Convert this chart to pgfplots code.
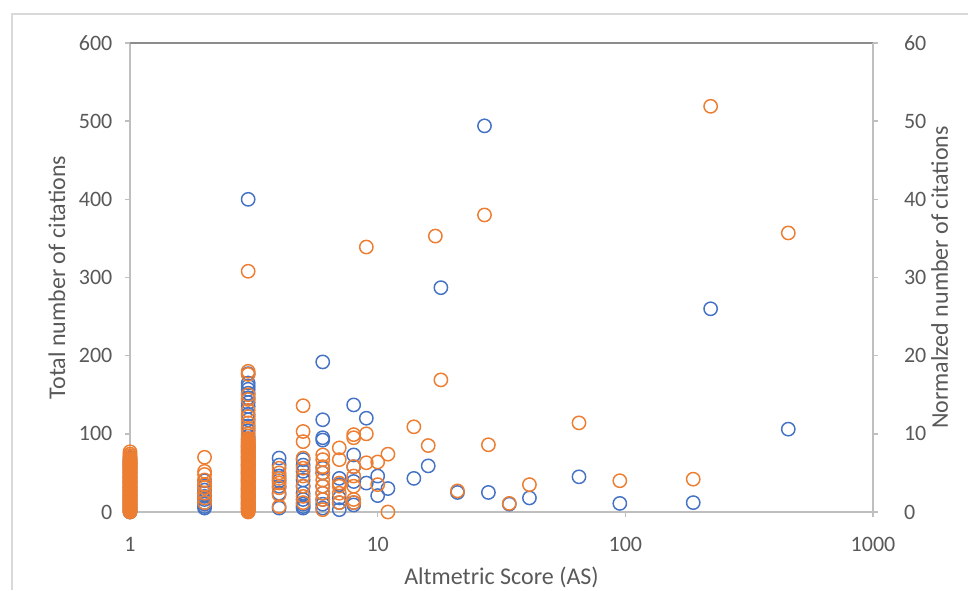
\documentclass[border=0pt]{standalone}
\usepackage{pgfplots}
\pgfplotsset{compat=1.18}
\usepackage{pgfplotstable}
\usepackage{fontspec}
\setmainfont{Carlito}
\definecolor{xlblue}{HTML}{4472C4}
\definecolor{xlorange}{HTML}{ED7D31}
\definecolor{txtgray}{HTML}{595959}
\definecolor{axgray}{HTML}{BFBFBF}
\definecolor{topgray}{HTML}{8C8C8C}
\definecolor{framegray}{HTML}{D9D9D9}

% Total number of citations (left axis)
\pgfplotstableread[row sep=\\]{
x y\\
1 0\\ 1 3\\ 1 6\\ 1 10\\ 1 14\\ 1 18\\ 1 22\\ 1 27\\ 1 32\\ 1 38\\ 1 44\\ 1 50\\ 1 56\\ 1 60\\ 1 63\\ 1 66\\ 1 69\\
2 5\\ 2 7\\ 2 10\\ 2 12\\ 2 16\\ 2 20\\ 2 24\\ 2 28\\ 2 33\\ 2 40\\
3 400\\ 3 177\\ 3 165\\ 3 161\\ 3 157\\ 3 152\\ 3 146\\ 3 140\\ 3 135\\ 3 125\\ 3 118\\ 3 110\\ 3 104\\ 3 97\\ 3 93\\ 3 84\\ 3 78\\ 3 70\\ 3 60\\ 3 50\\ 3 40\\ 3 30\\ 3 20\\ 3 10\\ 3 5\\
4 5\\ 4 24\\ 4 33\\ 4 40\\ 4 46\\ 4 60\\ 4 69\\
5 5\\ 5 7\\ 5 10\\ 5 16\\ 5 24\\ 5 33\\ 5 41\\ 5 52\\ 5 60\\ 5 67\\
6 192\\ 6 118\\ 6 95\\ 6 92\\ 6 56\\ 6 50\\ 6 33\\ 6 24\\ 6 16\\ 6 10\\ 6 5\\
7 3\\ 7 12\\ 7 18\\ 7 35\\ 7 43\\
8 137\\ 8 73\\ 8 58\\ 8 39\\ 8 12\\ 8 9\\
9 120\\ 9 37\\ 10 46\\ 10 21\\ 11 30\\
14 43\\ 16 59\\ 18 287\\ 21 25\\ 27 494\\ 28 25\\ 34 10\\ 41 18\\ 65 45\\ 95 11\\ 188 12\\ 221 260\\ 455 106\\
}\totaldata

% Normalized number of citations (right axis)
\pgfplotstableread[row sep=\\]{
x y\\
1 0\\ 1 0.1\\ 1 0.2\\ 1 0.3\\ 1 0.4\\ 1 0.5\\ 1 0.6\\ 1 0.7\\ 1 0.8\\ 1 0.9\\
1 1.0\\ 1 1.1\\ 1 1.2\\ 1 1.3\\ 1 1.4\\ 1 1.5\\ 1 1.6\\ 1 1.7\\ 1 1.8\\ 1 1.9\\
1 2.0\\ 1 2.1\\ 1 2.2\\ 1 2.3\\ 1 2.4\\ 1 2.5\\ 1 2.6\\ 1 2.7\\ 1 2.8\\ 1 2.9\\
1 3.0\\ 1 3.1\\ 1 3.2\\ 1 3.3\\ 1 3.4\\ 1 3.5\\ 1 3.6\\ 1 3.7\\ 1 3.8\\ 1 3.9\\
1 4.0\\ 1 4.1\\ 1 4.2\\ 1 4.3\\ 1 4.4\\ 1 4.5\\ 1 4.6\\ 1 4.7\\ 1 4.8\\ 1 4.9\\
1 5.0\\ 1 5.1\\ 1 5.2\\ 1 5.3\\ 1 5.4\\ 1 5.5\\ 1 5.6\\ 1 5.7\\ 1 5.8\\ 1 5.9\\
1 6.0\\ 1 6.1\\ 1 6.2\\ 1 6.3\\ 1 6.4\\ 1 6.5\\ 1 6.6\\ 1 6.8\\ 1 7.0\\ 1 7.2\\ 1 7.4\\ 1 7.7\\
2 1.2\\ 2 1.8\\ 2 2.4\\ 2 3.1\\ 2 3.5\\ 2 4.1\\ 2 4.8\\ 2 5.2\\ 2 7.0\\
3 0\\ 3 0.1\\ 3 0.2\\ 3 0.3\\ 3 0.4\\ 3 0.5\\ 3 0.6\\ 3 0.7\\ 3 0.8\\ 3 0.9\\
3 1.0\\ 3 1.1\\ 3 1.2\\ 3 1.3\\ 3 1.4\\ 3 1.5\\ 3 1.6\\ 3 1.7\\ 3 1.8\\ 3 1.9\\
3 2.0\\ 3 2.1\\ 3 2.2\\ 3 2.3\\ 3 2.4\\ 3 2.5\\ 3 2.6\\ 3 2.7\\ 3 2.8\\ 3 2.9\\
3 3.0\\ 3 3.1\\ 3 3.2\\ 3 3.3\\ 3 3.4\\ 3 3.5\\ 3 3.6\\ 3 3.7\\ 3 3.8\\ 3 3.9\\
3 4.0\\ 3 4.1\\ 3 4.2\\ 3 4.3\\ 3 4.4\\ 3 4.5\\ 3 4.6\\ 3 4.7\\ 3 4.8\\ 3 4.9\\
3 5.0\\ 3 5.1\\ 3 5.2\\ 3 5.3\\ 3 5.4\\ 3 5.5\\ 3 5.6\\ 3 5.7\\ 3 5.8\\ 3 5.9\\
3 6.0\\ 3 6.1\\ 3 6.2\\ 3 6.3\\ 3 6.4\\ 3 6.5\\ 3 6.6\\ 3 6.7\\ 3 6.8\\ 3 6.9\\
3 7.0\\ 3 7.1\\ 3 7.2\\ 3 7.3\\ 3 7.4\\ 3 7.5\\ 3 7.6\\ 3 7.7\\ 3 7.8\\ 3 7.9\\
3 8.0\\ 3 8.1\\ 3 8.2\\ 3 8.3\\ 3 8.4\\ 3 8.5\\ 3 8.6\\ 3 8.7\\ 3 8.8\\ 3 8.9\\
3 9.0\\ 3 9.2\\ 3 9.4\\ 3 10.0\\ 3 10.7\\ 3 11.4\\ 3 12.2\\ 3 13.0\\ 3 14.4\\ 3 15.0\\ 3 17.6\\ 3 18.0\\ 3 30.8\\
4 0.7\\ 4 2.2\\ 4 3.1\\ 4 3.7\\ 4 4.3\\ 4 5.0\\ 4 5.6\\
5 1.2\\ 5 2.0\\ 5 3.3\\ 5 4.6\\ 5 5.6\\ 5 6.9\\ 5 9.0\\ 5 10.3\\ 5 13.6\\
6 0.3\\ 6 1.6\\ 6 2.4\\ 6 3.3\\ 6 4.1\\ 6 5.0\\ 6 5.8\\ 6 6.7\\ 6 7.3\\
7 1.2\\ 7 2.4\\ 7 3.3\\ 7 3.7\\ 7 6.7\\ 7 8.2\\
8 1.2\\ 8 1.6\\ 8 3.3\\ 8 4.6\\ 8 5.8\\ 8 9.5\\ 8 9.9\\
9 6.3\\ 9 10.0\\ 9 33.9\\ 10 3.5\\ 10 6.4\\ 11 0\\ 11 7.4\\
14 10.9\\ 16 8.5\\ 17.1 35.3\\ 18 16.9\\ 21 2.7\\ 27 38.0\\ 28 8.6\\ 34 1.1\\ 41 3.5\\ 65 11.4\\ 95 4.0\\ 188 4.2\\ 221 51.9\\ 455 35.7\\
}\normdata

\pgfplotsset{
  mycommon/.style={
    at={(97.5pt,58.5pt)}, anchor=south west,
    scale only axis, width=557.25pt, height=351.75pt,
    xmin=1, xmax=1000,
    clip=false,
    tick align=outside,
    major tick length=3.75pt,
    minor tick length=0pt,
    tick style={color=axgray, line width=1.1pt},
    axis line style={-, color=axgray, line width=1.1pt},
    ticklabel style={font=\fontsize{16.5}{19}\selectfont, text=txtgray},
    /pgf/number format/assume math mode=true,
  },
}

\begin{document}
\begin{tikzpicture}
\path[use as bounding box] (0,0) rectangle (726pt,442.5pt);
\draw[color=framegray, line width=1.5pt] (9pt,0) -- (9pt,432pt) -- (726pt,432pt);

\begin{axis}[xmode=log, mycommon,
  axis x line*=bottom, axis y line*=left,
  ymin=0, ymax=600, ytick={0,100,...,600},
  xtick={1,10,100,1000}, xticklabels={1,10,100,1000},
  minor xtick={},
  xticklabel style={yshift=-11.5pt},
  yticklabel style={xshift=-6pt},
  xlabel={Altmetric Score (AS)},
  ylabel={Total number of citations},
  xlabel style={at={(axis description cs:0.5,0)}, anchor=center, yshift=-48.75pt, font=\fontsize{18}{21}\selectfont, text=txtgray},
  ylabel style={at={(axis description cs:0,0.5)}, anchor=center, rotate=0, yshift=54.75pt, font=\fontsize{18}{21}\selectfont, text=txtgray},
]
\draw[color=topgray, line width=0.8pt] (rel axis cs:0,1) -- (rel axis cs:1,1);
\addplot[only marks, mark=o, mark size=5pt, color=xlblue, mark options={line width=1.1pt}] table[x=x,y=y] {\totaldata};
\end{axis}

\begin{axis}[xmode=log, mycommon,
  axis x line=none, axis y line*=right,
  ymin=0, ymax=60, ytick={0,10,...,60},
  yticklabel style={xshift=16pt},
  ylabel={Normalzed number of citations},
  ylabel style={at={(axis description cs:1,0.5)}, anchor=center, yshift=-50pt, font=\fontsize{18}{21}\selectfont, text=txtgray},
]
\addplot[only marks, mark=o, mark size=5pt, color=xlorange, mark options={line width=1.1pt}] table[x=x,y=y] {\normdata};
\end{axis}
\end{tikzpicture}
\end{document}
